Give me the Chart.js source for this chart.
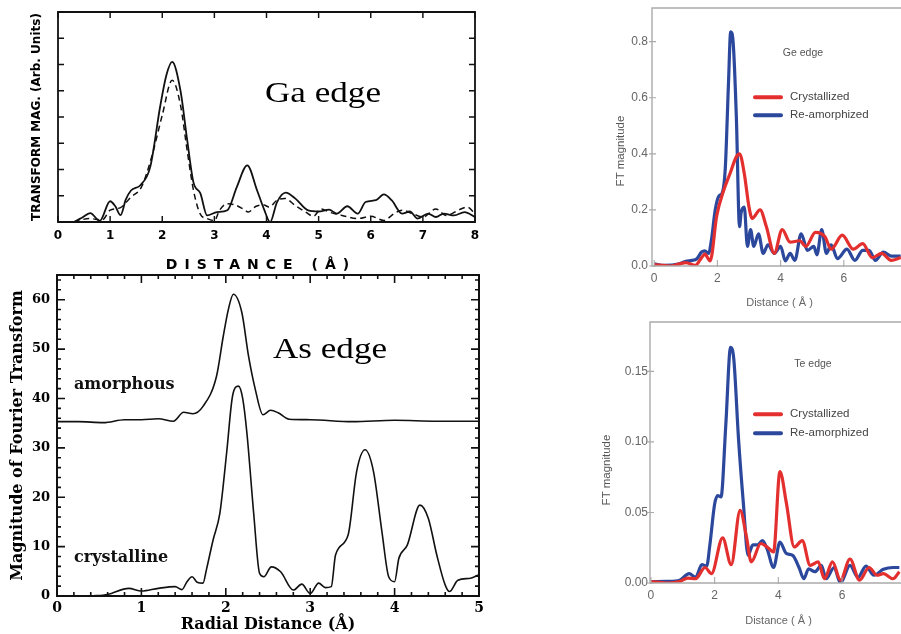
<!DOCTYPE html>
<html lang="en">
<head>
<meta charset="UTF-8">
<title>EXAFS Fourier transform magnitudes</title>
<script src="https://cdn.jsdelivr.net/npm/chart.js"></script>
<style>
  html, body { margin: 0; padding: 0; background: #fff; overflow: hidden; }
  #fig { position: relative; width: 901px; height: 634px; overflow: hidden; }
  canvas { position: absolute; }
  .lbl { position: absolute; white-space: nowrap; line-height: 1; }
  .edge { font-family: 'Liberation Serif', 'Times New Roman', serif; font-size: 30px; color: #000; transform: scaleX(1.17); transform-origin: 0 0; }
  .phase { font-family: 'DejaVu Serif', serif; font-weight: bold; font-size: 16px; color: #111; }
  .small { font-family: 'Liberation Sans', Arial, sans-serif; color: #555; }
  .center { transform: translate(-50%, -50%); }
  .rot { transform: translate(-50%, -50%) rotate(-90deg); }
  .legend { display: flex; align-items: center; transform: translateY(-50%); }
  .legend span.ln { display: inline-block; width: 30px; height: 4px; margin-right: 7px; border-radius: 2px; }
</style>
</head>
<body>
<div id="fig">
  <canvas id="ga" width="480" height="265" style="left:0;top:0"></canvas>
  <canvas id="as" width="490" height="369" style="left:0;top:265px"></canvas>
  <canvas id="ge" width="310" height="320" style="left:600px;top:0"></canvas>
  <canvas id="te" width="310" height="319" style="left:600px;top:315px"></canvas>

  <div class="lbl edge" style="left:265px;top:77px">Ga edge</div>
  <div class="lbl" style="left:261px;top:256px;transform:translateX(-50%);font:bold 14px 'DejaVu Sans',sans-serif;letter-spacing:7px">DISTANCE (Å)</div>
  <div class="lbl edge" style="left:273px;top:333px">As edge</div>
  <div class="lbl phase" style="left:74px;top:376px">amorphous</div>
  <div class="lbl phase" style="left:74px;top:549px">crystalline</div>

  <div class="lbl small center" style="left:803px;top:52px;font-size:10.5px">Ge edge</div>
  <div class="lbl small rot" style="left:621px;top:151px;font-size:11.5px">FT magnitude</div>
  <div class="lbl small center" style="left:813px;top:363px;font-size:10.5px">Te edge</div>
  <div class="lbl small rot" style="left:607px;top:470px;font-size:11.5px">FT magnitude</div>
  <div id="legends"></div>
</div>
<script>
// Ga edge (arb. units), solid and dashed
const gaSolid = [[0.3,0],[0.45,0.15],[0.62,0.34],[0.8,0.04],[1.0,0.79],[1.1,0.6],[1.2,0.26],[1.3,0.85],[1.4,1.2],[1.58,1.4],[1.77,2.1],[1.96,4.4],[2.08,5.6],[2.19,6.1],[2.35,5.0],[2.48,3.1],[2.6,1.5],[2.73,1.1],[2.86,0.25],[3.05,0.38],[3.25,0.45],[3.43,1.33],[3.63,2.16],[3.82,1.2],[3.95,0.5],[4.07,0],[4.2,0.75],[4.37,1.12],[4.55,0.9],[4.8,0.44],[5.0,0.4],[5.2,0.47],[5.35,0.32],[5.55,0.6],[5.75,0.32],[5.9,0.76],[6.1,0.83],[6.25,1.05],[6.4,0.83],[6.6,0.32],[6.75,0.4],[6.9,0.13],[7.1,0.32],[7.25,0.19],[7.4,0.32],[7.6,0.25],[7.8,0.38],[8.0,0.19]];
const gaDashed = [[0.3,0],[0.6,0.13],[0.85,0.08],[1.0,0.45],[1.2,0.55],[1.4,0.95],[1.6,1.33],[1.8,2.5],[2.0,4.07],[2.19,5.4],[2.35,4.45],[2.48,2.7],[2.6,1.2],[2.73,0.3],[2.86,0.13],[3.0,0.05],[3.1,0.45],[3.25,0.7],[3.4,0.65],[3.55,0.5],[3.65,0.38],[3.8,0.6],[3.95,0.65],[4.05,0.57],[4.2,0.83],[4.35,0.9],[4.55,0.63],[4.75,0.38],[4.9,0.22],[5.05,0.5],[5.2,0.38],[5.45,0.25],[5.75,0.13],[6.0,0.22],[6.25,0.06],[6.45,0.32],[6.6,0.45],[6.8,0.32],[7.0,0.19],[7.25,0.5],[7.45,0.25],[7.7,0.47],[7.85,0.57],[8.0,0.32]];

// As edge
const asAmorphous = [[0,35.3],[0.25,35.3],[0.55,35.1],[0.8,35.7],[1.0,35.7],[1.2,35.9],[1.38,35.4],[1.5,37.2],[1.61,36.9],[1.73,38.4],[1.89,44.5],[1.97,52.6],[2.03,58],[2.09,61.1],[2.19,57.4],[2.27,48.5],[2.35,41.8],[2.44,36.7],[2.53,37.6],[2.62,37.1],[2.75,35.8],[3.0,35.7],[3.5,35.3],[4.0,35.6],[4.5,35.4],[5.0,35.4]];
const asCrystalline = [[0.4,0],[0.6,0.3],[0.85,1.55],[1.0,1.0],[1.2,1.55],[1.4,1.9],[1.48,1.3],[1.54,2.9],[1.6,3.9],[1.66,2.8],[1.73,2.6],[1.77,5.3],[1.85,11.4],[1.93,16.8],[2.01,29],[2.08,40.5],[2.15,42.5],[2.2,40],[2.25,33],[2.33,16.8],[2.4,4.6],[2.45,3.9],[2.54,5.9],[2.65,4.9],[2.8,1.2],[2.9,2.4],[3.0,0.5],[3.1,2.6],[3.18,1.7],[3.25,1.9],[3.3,8.3],[3.45,12.4],[3.55,25.2],[3.65,29.6],[3.75,25.2],[3.85,13.0],[3.93,3.9],[4.0,2.9],[4.05,7.6],[4.15,10.3],[4.3,18.4],[4.4,15.7],[4.5,8.3],[4.6,2.2],[4.65,0.9],[4.75,3.2],[4.9,3.6],[5.0,4.3]];

// Ge edge
const geCrystallized = [[0,0.005],[0.5,0],[1.0,0.012],[1.3,0.002],[1.5,0.03],[1.6,0.042],[1.77,0.018],[1.98,0.18],[2.2,0.27],[2.4,0.33],[2.6,0.39],[2.7,0.40],[2.85,0.33],[3.0,0.21],[3.1,0.17],[3.35,0.2],[3.55,0.14],[3.8,0.045],[4.05,0.13],[4.3,0.085],[4.6,0.09],[4.8,0.07],[5.1,0.12],[5.4,0.105],[5.6,0.06],[5.95,0.11],[6.3,0.06],[6.6,0.08],[6.9,0.03],[7.2,0.045],[7.5,0.02],[7.8,0.03]];
const geReamorphized = [[0,0.008],[0.3,0.002],[0.8,0.008],[1.0,0.017],[1.2,0.02],[1.35,0.026],[1.5,0.05],[1.6,0.054],[1.72,0.045],[1.82,0.1],[1.93,0.2],[2.05,0.25],[2.15,0.26],[2.25,0.35],[2.35,0.65],[2.42,0.835],[2.5,0.795],[2.6,0.53],[2.7,0.14],[2.75,0.19],[2.85,0.21],[2.95,0.07],[3.05,0.13],[3.15,0.07],[3.3,0.115],[3.45,0.045],[3.6,0.075],[3.8,0.045],[4.0,0.07],[4.15,0.018],[4.3,0.045],[4.45,0.02],[4.65,0.115],[4.85,0.056],[5.05,0.07],[5.15,0.04],[5.3,0.13],[5.45,0.045],[5.6,0.075],[5.8,0.026],[6.1,0.06],[6.35,0.02],[6.6,0.056],[6.8,0.056],[7.0,0.02],[7.25,0.05],[7.5,0.035],[7.8,0.035]];

// Te edge
const teCrystallized = [[0,0.001],[0.5,0],[0.9,0.001],[1.15,0.0035],[1.4,0.003],[1.7,0.011],[1.9,0.0066],[2.25,0.032],[2.52,0.013],[2.8,0.0515],[3.0,0.0326],[3.15,0.015],[3.45,0.028],[3.65,0.0255],[3.85,0.022],[4.05,0.079],[4.25,0.057],[4.5,0.0255],[4.75,0.030],[5.0,0.0125],[5.25,0.015],[5.45,0.003],[5.7,0.015],[5.95,0.002],[6.25,0.017],[6.55,0.002],[6.85,0.011],[7.1,0.0055],[7.3,0.0066],[7.6,0.003],[7.8,0.008]];
const teReamorphized = [[0,0.001],[0.5,0.0012],[0.9,0.002],[1.2,0.0066],[1.4,0.004],[1.6,0.013],[1.75,0.012],[1.85,0.027],[2.0,0.056],[2.1,0.062],[2.2,0.061],[2.35,0.112],[2.5,0.167],[2.6,0.159],[2.75,0.102],[2.9,0.057],[3.05,0.0196],[3.2,0.027],[3.35,0.027],[3.5,0.030],[3.65,0.024],[3.85,0.011],[4.05,0.029],[4.25,0.021],[4.45,0.0196],[4.65,0.011],[4.8,0.003],[4.95,0.010],[5.15,0.008],[5.35,0.0125],[5.5,0.003],[5.75,0.011],[5.95,0],[6.25,0.0125],[6.5,0.004],[6.75,0.012],[7.0,0.0055],[7.3,0.0097],[7.6,0.011],[7.8,0.011]];

const gaTicksX = [0, 1, 2, 3, 4, 5, 6, 7, 8];
const asTicksX = [0, 1, 2, 3, 4, 5];
const asTicksY = [0, 10, 20, 30, 40, 50, 60];
const ftTicksX = [0, 2, 4, 6, 8];
const geTicksY = [0, 0.2, 0.4, 0.6, 0.8];
const teTicksY = [0, 0.05, 0.1, 0.15];
const seriesNames = ['Crystallized', 'Re-amorphized'];
const seriesColors = ['#e3302f', '#2c489c'];

const SANS = "'Liberation Sans', Arial, sans-serif";
const BOLDSANS = "'DejaVu Sans', sans-serif";
const SERIF = "'DejaVu Serif', serif";

// frame + inward tick marks, per canvas
const frames = {
  ga: { color: '#111', width: 1.8, sides: ['top', 'right', 'bottom', 'left'], marks: [
    { axis: 'x', step: 1, len: 6, out: 0, sides: ['bottom', 'top'] },
    { axis: 'y', step: 1, len: 6, out: 0, sides: ['left', 'right'] }] },
  as: { color: '#111', width: 2, sides: ['top', 'right', 'bottom', 'left'], marks: [
    { axis: 'x', step: 1, len: 8, out: 0, sides: ['bottom', 'top'] },
    { axis: 'x', step: 0.2, len: 4, out: 0, sides: ['bottom', 'top'] },
    { axis: 'y', step: 10, len: 8, out: 0, sides: ['left', 'right'] },
    { axis: 'y', step: 2, len: 4, out: 0, sides: ['left', 'right'] }] },
  ge: { color: '#aaa', width: 1.4, sides: ['top', 'bottom', 'left'], marks: [
    { axis: 'x', step: 2, len: 6, out: 1, sides: ['bottom'] },
    { axis: 'y', step: 0.2, len: 4, out: 3, sides: ['left'] }] },
  te: { color: '#aaa', width: 1.4, sides: ['top', 'bottom', 'left'], marks: [
    { axis: 'x', step: 2, len: 6, out: 1, sides: ['bottom'] },
    { axis: 'y', step: 0.05, len: 4, out: 3, sides: ['left'] }] }
};

const frameTicks = {
  id: 'frameTicks',
  afterDatasetsDraw(chart) {
    const o = frames[chart.canvas.id];
    const { ctx, chartArea: a, scales } = chart;
    const edges = {
      top: [a.left, a.top, a.right, a.top], right: [a.right, a.top, a.right, a.bottom],
      bottom: [a.left, a.bottom, a.right, a.bottom], left: [a.left, a.top, a.left, a.bottom]
    };
    ctx.save();
    ctx.strokeStyle = o.color;
    ctx.lineWidth = o.width;
    ctx.lineCap = 'square';
    ctx.beginPath();
    o.sides.forEach(s => { const e = edges[s]; ctx.moveTo(e[0], e[1]); ctx.lineTo(e[2], e[3]); });
    ctx.stroke();
    ctx.lineWidth = o.width * 0.8;
    ctx.lineCap = 'butt';
    ctx.beginPath();
    o.marks.forEach(m => {
      const sc = scales[m.axis];
      for (let i = Math.ceil(sc.min / m.step - 1e-6); i * m.step <= sc.max + 1e-6; i++) {
        const p = sc.getPixelForValue(i * m.step);
        m.sides.forEach(s => {
          if (s === 'bottom') { ctx.moveTo(p, a.bottom + m.out); ctx.lineTo(p, a.bottom - m.len); }
          if (s === 'top') { ctx.moveTo(p, a.top); ctx.lineTo(p, a.top + m.len); }
          if (s === 'left') { ctx.moveTo(a.left - m.out, p); ctx.lineTo(a.left + m.len, p); }
          if (s === 'right') { ctx.moveTo(a.right, p); ctx.lineTo(a.right - m.len, p); }
        });
      }
    });
    ctx.stroke();
    ctx.restore();
  }
};

const pts = arr => arr.map(([x, y]) => ({ x, y }));

function axis(o) {
  return {
    type: 'linear', min: o.min, max: o.max,
    afterBuildTicks: s => { s.ticks = o.ticks.map(v => ({ value: v })); },
    afterFit: s => {
      // fixed box sizes, and no extra room for the end labels
      if (s.isHorizontal()) { s.height = o.size; s.paddingLeft = 0; s.paddingRight = 0; }
      else { s.width = o.size; s.paddingTop = 0; s.paddingBottom = 0; }
    },
    grid: { display: false, drawTicks: false },
    border: { display: false },
    ticks: {
      display: o.labels !== false, font: o.font, color: o.color || '#000', padding: o.pad,
      maxRotation: 0, autoSkip: false, callback: o.fmt || (v => v)
    },
    title: o.title
      ? { display: true, text: o.title, font: o.titleFont, color: o.color || '#000', padding: o.titlePad }
      : { display: false }
  };
}

function line(data, color, width, dash) {
  return {
    data: pts(data), borderColor: color, borderWidth: width, borderDash: dash || [],
    pointRadius: 0, fill: false, cubicInterpolationMode: 'monotone'
  };
}

function draw(id, padding, datasets, x, y) {
  new Chart(document.getElementById(id), {
    type: 'line',
    data: { datasets },
    options: {
      responsive: false, animation: false, events: [],
      layout: { padding },
      plugins: { legend: { display: false }, tooltip: { enabled: false } },
      scales: { x: axis(x), y: axis(y) }
    },
    plugins: [frameTicks]
  });
}

draw('ga', { top: 12, right: 5, left: 0, bottom: 0 },
  [line(gaSolid, '#111', 1.8), line(gaDashed, '#111', 1.5, [6, 4])],
  { min: 0, max: 8, ticks: gaTicksX, size: 43, pad: 7, font: { family: BOLDSANS, size: 12, weight: 'bold' } },
  { min: 0, max: 8, ticks: gaTicksX, size: 58, labels: false,
    title: 'TRANSFORM MAG. (Arb. Units)', titleFont: { family: BOLDSANS, size: 12, weight: 'bold' }, titlePad: { top: 30, bottom: 0 } });

draw('as', { top: 10, right: 11, left: 0, bottom: 0 },
  [line(asAmorphous, '#111', 1.6), line(asCrystalline, '#111', 1.6)],
  { min: 0, max: 5, ticks: asTicksX, size: 38, pad: 4, font: { family: SERIF, size: 14, weight: 'bold' },
    title: 'Radial Distance (Å)', titleFont: { family: SERIF, size: 16, weight: 'bold' }, titlePad: { top: 0, bottom: 0 } },
  { min: 0, max: 65, ticks: asTicksY, size: 57, pad: 7, font: { family: SERIF, size: 13, weight: 'bold' },
    title: 'Magnitude of Fourier Transform', titleFont: { family: SERIF, size: 16, weight: 'bold' }, titlePad: { top: 8, bottom: 0 } });

draw('ge', { top: 8, right: 3, left: 0, bottom: 0 },
  [line(geCrystallized, seriesColors[0], 3.2), line(geReamorphized, seriesColors[1], 3.2)],
  { min: -0.07, max: 8, ticks: ftTicksX, size: 54, pad: 5, color: '#666', font: { family: SANS, size: 12 },
    title: 'Distance ( Å )', titleFont: { family: SANS, size: 11 }, titlePad: { top: 0, bottom: 10 } },
  { min: 0, max: 0.92, ticks: geTicksY, size: 52, pad: 4, color: '#666', font: { family: SANS, size: 12 }, fmt: v => v.toFixed(1) });

draw('te', { top: 7, right: 3, left: 0, bottom: 0 },
  [line(teCrystallized, seriesColors[0], 3.2), line(teReamorphized, seriesColors[1], 3.2)],
  { min: -0.03, max: 8.04, ticks: ftTicksX, size: 51, pad: 5, color: '#666', font: { family: SANS, size: 12 },
    title: 'Distance ( Å )', titleFont: { family: SANS, size: 11 }, titlePad: { top: 0, bottom: 6 } },
  { min: 0, max: 0.185, ticks: teTicksY, size: 50, pad: 2, color: '#666', font: { family: SANS, size: 12 }, fmt: v => v.toFixed(2) });

// legends for the two right-hand panels
const legendRows = [[97, 115], [414, 433]];
document.getElementById('legends').innerHTML = legendRows.map(rows => rows.map((y, i) =>
  `<div class="lbl small legend" style="left:753px;top:${y}px;font-size:11.5px;color:#444">` +
  `<span class="ln" style="background:${seriesColors[i]}"></span>${seriesNames[i]}</div>`).join('')).join('');
</script>
</body>
</html>
